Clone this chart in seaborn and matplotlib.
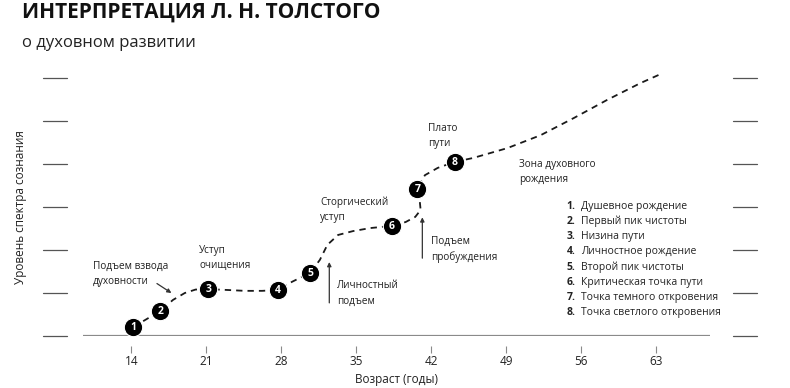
import pandas as pd
import matplotlib.pyplot as plt
import seaborn as sns

# Данные: путь кривой (возраст, уровень)
path_age = [14.2, 16.7, 17.9, 19.0, 20.0, 21.2, 23.0, 24.6, 26.2, 27.7, 29.0, 30.7,
            31.6, 32.3, 33.3, 34.7, 36.3, 38.3, 39.6, 40.5, 41.0, 40.9, 40.7, 41.4,
            42.6, 44.2, 45.9, 49.1, 52.2, 55.3, 58.4, 61.5, 63.2]
path_level = [0.21, 0.58, 0.84, 1.00, 1.08, 1.09, 1.07, 1.05, 1.05, 1.07, 1.26, 1.47,
              1.77, 2.12, 2.35, 2.44, 2.51, 2.56, 2.65, 2.77, 2.93, 3.19, 3.42, 3.74,
              3.91, 4.05, 4.14, 4.37, 4.67, 5.07, 5.49, 5.88, 6.07]

# Ключевые точки
point_num = [1, 2, 3, 4, 5, 6, 7, 8]
point_age = [14.2, 16.7, 21.2, 27.7, 30.7, 38.3, 40.7, 44.2]
point_level = [0.21, 0.58, 1.09, 1.07, 1.47, 2.56, 3.42, 4.05]

legend_items = ["Душевное рождение", "Первый пик чистоты", "Низина пути",
                "Личностное рождение", "Второй пик чистоты", "Критическая точка пути",
                "Точка темного откровения", "Точка светлого откровения"]

age_ticks = [14, 21, 28, 35, 42, 49, 56, 63]
levels = [0, 1, 2, 3, 4, 5, 6]

sns.set_theme(style="white")
plt.rcParams['font.family'] = ['Open Sans', 'DejaVu Sans']
txt = "#222222"

fig = plt.figure(figsize=(7.9, 3.88), dpi=100)
ax = fig.add_axes([83 / 790, 1 - 336 / 388, 627 / 790, 266.6 / 388])

# кривая
sns.lineplot(x=path_age, y=path_level, sort=False, color="#1a1a1a", lw=1.3, ax=ax)
ax.lines[-1].set_linestyle((0, (3.5, 2.8)))

# точки
df = pd.DataFrame({"age": point_age, "level": point_level, "n": point_num})
sns.scatterplot(data=df, x="age", y="level", s=175, color="black",
                edgecolor="white", linewidth=0.8, zorder=5, ax=ax)
for _, r in df.iterrows():
    ax.text(r["age"], r["level"] - 0.02, str(int(r["n"])), color="white", fontsize=7.5,
            fontweight="bold", ha="center", va="center", zorder=6)

ax.set_xlim(9.5, 68.0)
ax.set_ylim(0, 6.2)

# ось X
ax.axhline(0, color="#8a8a8a", lw=1.6, zorder=1)
sns.despine(ax=ax, left=True, right=True, top=True)
ax.spines["bottom"].set_position(("outward", 7))
ax.spines["bottom"].set_visible(False)
ax.set_xticks(age_ticks)
ax.set_yticks([])
ax.tick_params(axis="x", length=5, width=0.8, color="#8a8a8a", labelsize=8.5,
               labelcolor=txt, pad=2, bottom=True)
ax.set_xlabel("Возраст (годы)", fontsize=8.5, color=txt, labelpad=3)
ax.set_ylabel("Уровень спектра сознания", fontsize=8.5, color=txt)
ax.yaxis.set_label_coords(-0.089, 0.484)

# уровни по краям
tr = ax.get_yaxis_transform()
for lv in levels:
    ax.plot([-0.064, -0.026], [lv, lv], color="#555555", lw=0.9, transform=tr, clip_on=False)
    ax.plot([1.037, 1.075], [lv, lv], color="#555555", lw=0.9, transform=tr, clip_on=False)

# подписи этапов
fs = 7.2
ax.text(10.45, 1.45, "Подъем взвода\nдуховности", fontsize=fs, color=txt, va="center", linespacing=1.5)
ax.text(20.35, 1.81, "Уступ\nочищения", fontsize=fs, color=txt, va="center", linespacing=1.5)
ax.text(33.23, 0.99, "Личностный\nподъем", fontsize=fs, color=txt, va="center", linespacing=1.5)
ax.text(31.64, 2.93, "Сторгический\nуступ", fontsize=fs, color=txt, va="center", linespacing=1.5)
ax.text(41.72, 4.64, "Плато\nпути", fontsize=fs, color=txt, va="center", linespacing=1.5)
ax.text(42.0, 2.01, "Подъем\nпробуждения", fontsize=fs, color=txt, va="center", linespacing=1.5)
ax.text(50.2, 3.81, "Зона духовного\nрождения", fontsize=fs, color=txt, va="center", linespacing=1.5)

arrow = dict(arrowstyle="-|>", color="#333333", lw=0.9, mutation_scale=6, shrinkA=0, shrinkB=0)
ax.annotate("", xy=(17.75, 1.0), xytext=(16.4, 1.22), arrowprops=arrow)
ax.annotate("", xy=(32.48, 1.72), xytext=(32.48, 0.77), arrowprops=arrow)
ax.annotate("", xy=(41.16, 2.76), xytext=(41.16, 1.81), arrowprops=arrow)

# список точек
for i, name in enumerate(legend_items):
    y = 3.02 - i * 0.355
    ax.text(54.6, y, f"{i + 1}.", fontsize=7.5, fontweight="bold", color=txt, va="center")
    ax.text(56.0, y, name, fontsize=7.5, color=txt, va="center")

# заголовок
fig.text(22 / 790, 1 - 12 / 388, "ИНТЕРПРЕТАЦИЯ Л. Н. ТОЛСТОГО", fontsize=15,
         fontweight="bold", color="#111111", va="center")
fig.text(22 / 790, 1 - 43 / 388, "о духовном развитии", fontsize=12, color=txt, va="center")

fig.savefig("out.png", dpi=100, facecolor="white")
